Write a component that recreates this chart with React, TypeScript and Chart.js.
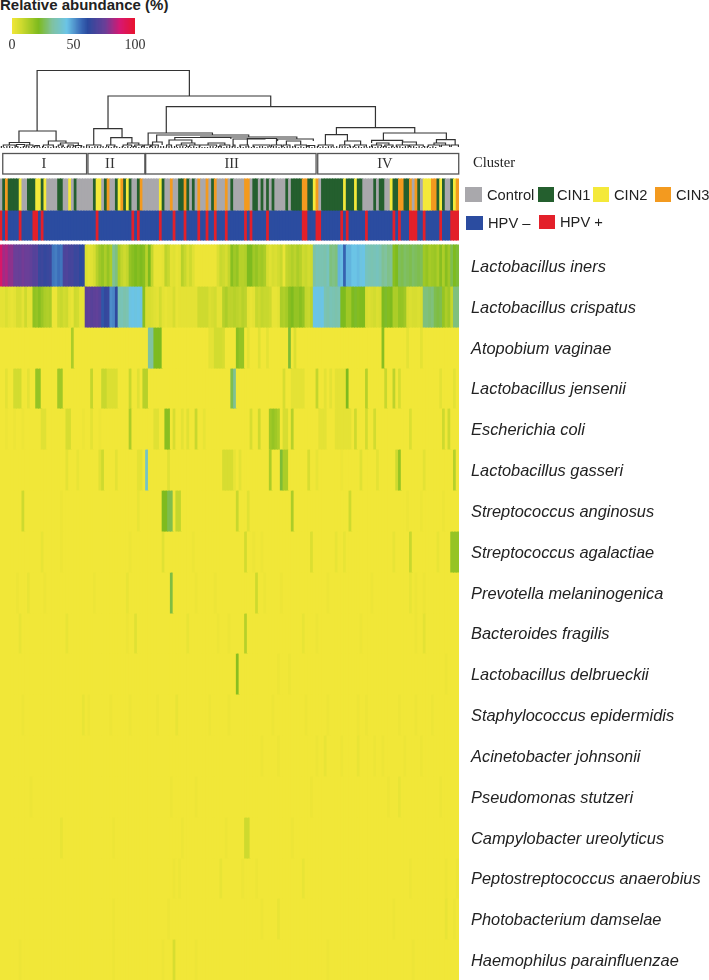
import React, { useEffect, useRef } from "react";
import { Chart, registerables } from "chart.js";

Chart.register(...registerables);

const COLUMN_COUNT = 167;
const speciesNames = [
  "Lactobacillus iners", "Lactobacillus crispatus", "Atopobium vaginae", "Lactobacillus jensenii",
  "Escherichia coli", "Lactobacillus gasseri", "Streptococcus anginosus", "Streptococcus agalactiae",
  "Prevotella melaninogenica", "Bacteroides fragilis", "Lactobacillus delbrueckii", "Staphylococcus epidermidis",
  "Acinetobacter johnsonii", "Pseudomonas stutzeri", "Campylobacter ureolyticus", "Peptostreptococcus anaerobius",
  "Photobacterium damselae", "Haemophilus parainfluenzae",
];

const iners = [
  90,82,84,80,80,76,76,75,77,76,76,74,71,72,65,66,64,65,66,55,54,56,55,69,70,68,68,65,66,62,63,
  5,3,4,6,12,16,18,14,18,14,32,30,14,10,8,10,18,20,22,20,22,20,12,22,10,2,2,2,3,11,9,3,4,2,3,
  12,9,5,8,4,1,1,1,1,1,1,1,1,5,9,8,6,10,20,16,18,12,12,13,22,22,16,18,15,16,14,6,4,6,5,7,
  9,2,10,11,13,11,14,12,8,9,7,8,34,37,36,36,35,38,30,31,30,47,46,58,47,47,45,45,46,44,45,
  38,37,36,37,38,36,32,33,31,32,20,22,27,26,28,27,26,28,27,26,27,16,18,15,16,17,14,20,14,20,16,26,22,24,
];
const crispatus = [
  3,3,5,3,2,3,6,6,3,8,3,3,19,18,20,17,14,13,14,1,1,8,9,7,8,3,2,8,7,2,2,
  73,74,72,73,74,72,60,64,65,52,53,63,36,37,35,36,44,45,44,45,44,20,
  6,6,5,4,3,7,3,2,3,3,6,2,3,3,3,3,3,3,3,8,8,8,8,5,6,7,3,3,12,14,11,
  11,12,11,10,12,11,3,2,3,9,8,10,9,9,8,2,2,3,14,13,15,20,22,18,18,20,18,10,9,11,
  45,45,44,45,36,35,37,36,35,36,22,22,16,16,22,23,21,22,22,6,5,6,7,5,6,22,23,21,22,14,14,
  18,18,16,6,5,6,6,5,6,30,30,29,30,26,25,26,18,14,16,10,30,30,
];
// Sparse species: [column, abundance]; every other column is 0.
const atopobium = [[26,14],[54,33],[55,33],[56,22],[57,22],[58,22],[76,3],[77,3],[78,7],[79,7],[80,7],[81,6],[86,20],[87,18],[88,18],[90,3],[94,4],[97,3],[105,24],[107,5],[139,20],[148,3],[153,3]];
const jensenii = [[2,3],[5,7],[6,7],[7,7],[10,3],[13,18],[14,18],[21,16],[22,16],[33,10],[37,9],[38,9],[39,5],[40,5],[41,5],[42,5],[47,9],[50,4],[52,12],[53,12],[84,26],[85,32],[103,6],[106,3],[107,3],[108,3],[109,3],[110,3],[115,10],[118,3],[120,3],[122,3],[123,3],[124,3],[125,3],[126,22],[133,12],[140,9],[143,11],[145,6],[160,3],[165,3]];
const coli = [[2,1],[5,1],[8,1],[15,4],[16,4],[24,6],[25,6],[30,1],[33,3],[36,1],[47,14],[56,4],[57,4],[60,20],[61,20],[63,6],[66,3],[68,4],[71,9],[74,2],[91,6],[94,8],[98,16],[99,18],[100,16],[101,14],[103,6],[104,6],[106,12],[116,3],[117,3],[118,3],[122,3],[123,3],[124,3],[125,3],[126,3],[127,3],[129,8],[133,7],[136,7],[149,5],[161,8],[163,8]];
const gasseri = [[24,3],[28,2],[36,4],[37,8],[42,3],[50,3],[51,3],[53,40],[61,4],[81,6],[82,6],[83,6],[84,6],[85,2],[87,3],[98,14],[102,24],[103,14],[104,14],[112,6],[115,2],[124,1],[131,4],[137,3],[144,8],[145,18],[154,3],[165,12]];
const anginosus = [[8,8],[22,1],[50,2],[59,22],[60,22],[61,26],[62,26],[64,10],[65,10],[86,9],[90,4],[106,14],[127,8],[148,1],[153,1],[161,1]];
const agalactiae = [[15,2],[22,1],[47,1],[59,4],[70,1],[89,7],[92,1],[95,1],[113,5],[122,2],[125,2],[143,2],[149,9],[159,2],[164,18],[165,18],[166,18]];
const prevotella = [[6,1],[10,2],[16,1],[34,1],[46,2],[62,25],[71,1],[78,1],[93,8],[96,1],[102,1],[119,1],[135,1],[149,2],[151,1],[154,1]];
const bacteroides = [[7,2],[24,2],[46,1],[49,4],[68,2],[79,1],[83,1],[89,12],[110,2],[115,1],[131,1],[151,1],[154,3]];
const delbrueckii = [[86,20],[101,1],[105,1],[162,1]];
const epidermidis = [[8,1],[30,2],[32,1],[40,1],[47,1],[57,1],[64,2],[76,1],[83,1],[99,1],[111,1],[119,1],[130,1],[133,1],[145,1],[151,1],[157,1]];
const johnsonii = [[95,1],[101,1],[115,1],[118,2],[124,1],[130,2],[136,1],[139,1],[147,1],[153,1]];
const stutzeri = [[11,1],[62,1],[71,1],[113,1],[141,1],[145,2],[160,1]];
const ureolyticus = [[22,2],[41,1],[66,1],[82,1],[89,8],[90,8],[106,1]];
const anaerobius = [[63,1],[65,1],[80,2],[88,1],[93,1],[110,2],[149,1],[162,1],[166,1]];
const damselae = [[41,1],[61,1],[95,1],[101,2],[143,1],[162,2],[165,1]];
const parainfluenzae = [[7,1],[41,1],[59,1],[63,6],[71,1],[119,1],[150,1]];

// 0 Control, 1 CIN1, 2 CIN2, 3 CIN3
const diagnosis = [
  0,1,3,1,1,1,1,2,0,0,1,1,1,2,2,1,2,0,0,0,0,1,1,0,0,2,0,1,0,0,0,0,0,0,1,2,2,0,1,3,0,0,1,2,3,1,2,1,0,0,1,3,
  0,0,0,0,0,0,2,1,0,0,3,0,0,1,1,3,1,0,1,0,3,0,0,3,0,1,3,0,0,0,3,0,1,0,0,0,0,3,3,0,1,1,0,1,0,1,0,1,0,0,0,0,1,0,
  1,1,1,1,3,3,1,1,2,3,0,1,1,1,1,1,1,1,1,2,1,1,1,2,1,1,0,0,0,0,1,0,1,1,0,0,2,1,1,3,3,1,1,3,0,3,1,0,2,2,2,3,3,1,2,1,0,0,1,2,3,
];
const hpvPositiveColumns = [0,2,7,12,13,15,35,48,50,58,63,67,72,75,78,82,89,91,97,110,111,115,116,124,126,133,143,145,149,150,151,154,160,164,165,166];

const clusterNames = ["I", "II", "III", "IV"];
const clusterStarts = [1, 32, 53, 115.6];
const clusterEnds = [31.5, 52.7, 115, 166.9];
const clusterLabelCols = [16, 40, 84.3, 140];

// Dendrogram, in columns and heights: [left, right, height, leftLegFloor, rightLegFloor]
const merges = [
  [13.5,68.9,77.5,17,52],[6.9,20.4,17,5.5,7],[39.3,98.5,52,19.4,41.3],[60.5,136.6,41.3,15,20.3],
  [34.1,44.4,19.4,3,10.3],[40.3,48,10.3,3,5],[46.4,50.5,5,3,3],
  [53.9,77.3,15,3,13],[57,90.5,13,6,11],[55.5,59,6,3,3],[73,108,11,10.5,9],[63.6,84,10.5,8,9],[61.5,69.8,8,3,5],[66,70.9,5,3,3],
  [84.8,96.4,9,3,9.5],[90,100.6,9.5,3,3],[101,114,9,7,7],[104.2,109.4,7,3,3],[75.7,81.8,5,3,3],
  [122.4,150.9,20.3,13.3,15],[118.4,126.4,13.3,3,7],[125.4,131.2,7,3,3],
  [139.5,162.4,15,7.7,8.3],[135.2,146.5,7.7,5,6],[137,141.5,5,3,3],[146.4,151.5,6,3,3],[158.8,165.6,8.3,5,3],[157.9,162.1,5,3,3],
  [3.4,10.8,5.5,3,3],[17.6,24,7,3,5],[22,28.5,5,3,3],
];
const tufts = [
  [1.2,5.5,3],[6,9,3.5],[9.7,12,3],[12.7,14.3,2.5],[15.8,19.4,3],[21.2,23,3],[24.8,26.7,3],[27.3,29.7,2.5],[31.5,36.7,3],[38.8,41.8,3],
  [44.8,47.9,3],[49,52,3],[52.5,55.3,3],[54.8,57.6,3],[60.6,62.4,3],[64.2,67.9,3],[69,72.7,3],[72.7,78.8,3],[80,83.6,3],[84.8,85.5,3],
  [87.3,90.3,3],[92.1,98.2,3],[98.8,102.4,3],[103,105.5,3],[107.3,111.5,3],[112,114.5,2.5],[115.8,121.2,3],[123.6,127.3,3],[129,133.3,3],
  [135.2,138.8,3],[140,143,3],[144.2,148.5,3],[149,154,3],[155.8,160,3],[160.6,163.6,3],[164.2,166.8,3],
];
const leafHeights = [
  2,1,2,2,1,2,2,1,2,1,2,1,2,2,1,2,1,2,1,2,2,1,2,1,2,2,1,2,1,2,2,1,2,1,2,2,1,2,1,2,1,2,2,1,2,1,2,1,2,2,1,2,
  2,1,2,1,2,1,2,2,1,2,1,2,1,2,2,1,2,1,2,1,2,1,1,1,2,2,1,2,2,1,2,1,2,2,1,2,1,2,2,1,2,1,2,2,1,2,1,2,2,1,2,1,2,1,2,
  2,1,2,1,2,2,1,2,2,1,2,1,2,2,1,2,1,2,2,1,2,2,1,2,1,2,1,2,2,1,2,1,2,2,1,2,1,2,2,1,2,1,2,2,1,2,1,2,2,1,2,1,
];

const abundanceStops = [0, 8, 22, 33, 45, 56, 62, 76, 88, 100];
const abundanceColors = [
  [241,231,56],[206,218,47],[126,187,31],[128,194,160],[107,196,230],[60,110,185],[43,74,158],[106,63,152],[214,24,115],[232,20,48],
];
const colorbarTicks = [0, 50, 100];
const diagnosisColors = ["#A9A8AC", "#245F2E", "#F4E93A", "#F39A1F"];
const HPV_NEG = "#2B4CA0";
const HPV_POS = "#E3202A";

function expandSparse(pairs: number[][]) {
  const out = new Array(COLUMN_COUNT).fill(0);
  pairs.forEach(([c, v]) => { out[c] = v; });
  return out;
}
const heatRows: number[][] = [
  iners, crispatus, ...[atopobium, jensenii, coli, gasseri, anginosus, agalactiae, prevotella, bacteroides,
    delbrueckii, epidermidis, johnsonii, stutzeri, ureolyticus, anaerobius, damselae, parainfluenzae].map(expandSparse),
];

function abundanceColor(v: number) {
  let i = 0;
  while (i < abundanceStops.length - 2 && v > abundanceStops[i + 1]) i++;
  const t = Math.min(1, (v - abundanceStops[i]) / (abundanceStops[i + 1] - abundanceStops[i]));
  const a = abundanceColors[i], b = abundanceColors[i + 1];
  return `rgb(${a.map((c, k) => Math.round(c + (b[k] - c) * t)).join(",")})`;
}

const columnLabels = Array.from({ length: COLUMN_COUNT }, (_, i) => String(i + 1));
const MAIN_TOP = 150;
const heatEdges = speciesNames.map((_, i) => 95 + Math.round((i * 735) / 18)).concat(830);

function band(top: number, bottom: number, colors: string[], label: string) {
  return {
    label,
    data: colors.map(() => [top, bottom]),
    backgroundColor: colors,
    borderWidth: 0,
    grouped: false,
    barPercentage: 1,
    categoryPercentage: 1,
    inflateAmount: 0.5,
  };
}

const clusterBoxes = {
  id: "clusterBoxes",
  afterDatasetsDraw(chart: any) {
    const { ctx, scales } = chart;
    ctx.save();
    ctx.strokeStyle = "#555";
    ctx.lineWidth = 1.3;
    ctx.fillStyle = "#333";
    ctx.font = "14.5px 'Liberation Serif'";
    ctx.textAlign = "center";
    ctx.textBaseline = "middle";
    const px = (c: number) => scales.x.getPixelForValue(c - 0.5);
    clusterNames.forEach((name, i) => {
      const l = px(clusterStarts[i]), r = px(clusterEnds[i]);
      ctx.strokeRect(l, scales.y.getPixelForValue(3.5), r - l, scales.y.getPixelForValue(24) - scales.y.getPixelForValue(3.5));
      ctx.fillText(name, px(clusterLabelCols[i]), scales.y.getPixelForValue(14));
    });
    ctx.restore();
  },
};

function useChart(build: (c: HTMLCanvasElement) => Chart) {
  const ref = useRef<HTMLCanvasElement>(null);
  useEffect(() => {
    const chart = build(ref.current!);
    return () => chart.destroy();
  }, []);
  return ref;
}

const Swatch = ({ x, y, w, h, c }: any) => (
  <div style={{ position: "absolute", left: x, top: y, width: w, height: h, background: c }} />
);
const Label = ({ x, y, children, style }: any) => (
  <div style={{ position: "absolute", left: x, top: y, font: "14.7px 'Liberation Sans'", color: "#222", whiteSpace: "nowrap", lineHeight: "18px", ...style }}>
    {children}
  </div>
);

export default function App() {
  const mainRef = useChart((canvas) => {
    const datasets: any[] = [
      band(29, 60, diagnosis.map((d) => diagnosisColors[d]), "Diagnosis"),
      band(60, 90, columnLabels.map((_, i) => (hpvPositiveColumns.includes(i) ? HPV_POS : HPV_NEG)), "HPV"),
      ...heatRows.map((row, i) =>
        band(heatEdges[i], heatEdges[i + 1], Array.from({ length: COLUMN_COUNT }, (_, c) => abundanceColor(row[c] ?? 0)), speciesNames[i])
      ),
    ];
    return new Chart(canvas, {
      type: "bar",
      data: { labels: columnLabels, datasets },
      plugins: [clusterBoxes],
      options: {
        animation: false, responsive: false, events: [],
        layout: { padding: 0 },
        plugins: { legend: { display: false }, tooltip: { enabled: false }, title: { display: false } },
        scales: {
          x: { display: false, type: "category" },
          y: {
            type: "linear", position: "right", reverse: true, min: 0, max: 830,
            grid: { display: false, drawTicks: false }, border: { display: false },
            afterBuildTicks(scale: any) {
              scale.ticks = speciesNames.map((_, i) => ({ value: (heatEdges[i] + heatEdges[i + 1]) / 2 + 1.5 }));
            },
            afterFit(scale: any) {
              scale.width = 250;
              scale.paddingTop = 0;
              scale.paddingBottom = 0;
            },
            ticks: {
              autoSkip: false, padding: 12, color: "#222",
              font: { family: "'Liberation Sans'", size: 16.4, style: "italic" },
              callback: (_v: any, i: number) => speciesNames[i],
            },
          },
        },
      } as any,
    });
  });

  const treeRef = useChart((canvas) => {
    const pts: any[] = [];
    const gap = () => pts.push({ x: NaN, y: NaN });
    merges.forEach(([l, r, h, lf, rf]) => {
      pts.push({ x: l, y: lf }, { x: l, y: h }, { x: r, y: h }, { x: r, y: rf }); gap();
    });
    tufts.forEach(([l, r, h]) => {
      pts.push({ x: l, y: 1 }, { x: l, y: h }, { x: r, y: h }, { x: r, y: 1 }); gap();
    });
    leafHeights.forEach((h, i) => {
      pts.push({ x: i + 0.5, y: 0 }, { x: i + 0.5, y: h }); gap();
    });
    return new Chart(canvas, {
      type: "scatter",
      data: { datasets: [{ label: "Dendrogram", data: pts, showLine: true, spanGaps: false, pointRadius: 0, borderColor: "#333", borderWidth: 1.2 }] },
      options: {
        animation: false, responsive: false, events: [],
        layout: { padding: 0 },
        plugins: { legend: { display: false }, tooltip: { enabled: false } },
        scales: {
          x: { type: "linear", display: false, min: 0, max: COLUMN_COUNT },
          y: { type: "linear", display: false, min: 0, max: 88 },
        },
      } as any,
    });
  });

  const barRef = useChart((canvas) => {
    const levels = Array.from({ length: 101 }, (_, i) => i);
    return new Chart(canvas, {
      type: "bar",
      data: {
        datasets: [{
          label: "Relative abundance (%)",
          data: levels.map((v) => ({ x: v, y: 1 })),
          backgroundColor: levels.map(abundanceColor),
          borderWidth: 0, barPercentage: 1, categoryPercentage: 1, inflateAmount: 0.5,
        }],
      },
      options: {
        animation: false, responsive: false, events: [],
        layout: { padding: { left: 12, right: 25, top: 4, bottom: 0 } },
        plugins: { legend: { display: false }, tooltip: { enabled: false } },
        scales: {
          x: {
            type: "linear", offset: false, min: 0, max: 100,
            grid: { display: false, drawTicks: false }, border: { display: false },
            afterBuildTicks(scale: any) { scale.ticks = colorbarTicks.map((value) => ({ value })); },
            afterFit(scale: any) { scale.height = 20; },
            ticks: { padding: 3, maxRotation: 0, color: "#333", font: { family: "'Liberation Serif'", size: 14 } },
          },
          y: { type: "linear", display: false, min: 0, max: 1 },
        },
      } as any,
    });
  });

  return (
    <div style={{ position: "absolute", left: 0, top: 0, width: 709, height: 980, overflow: "hidden", background: "#fff", filter: "blur(0.4px)" }}>
      <canvas ref={mainRef} width={709} height={830} style={{ position: "absolute", left: 0, top: MAIN_TOP, display: "block" }} />
      <canvas ref={treeRef} width={459} height={88} style={{ position: "absolute", left: 0, top: 60, display: "block" }} />
      <canvas ref={barRef} width={160} height={40} style={{ position: "absolute", left: 0, top: 14, display: "block" }} />
      <Label x={0} y={-4} style={{ font: "bold 15px 'Liberation Sans'", lineHeight: "18px" }}>Relative abundance (%)</Label>
      <Label x={473} y={153} style={{ font: "14.6px 'Liberation Serif'" }}>Cluster</Label>
      <Swatch x={465} y={187} w={17} h={15} c={diagnosisColors[0]} />
      <Label x={487} y={186}>Control</Label>
      <Swatch x={538} y={187} w={16} h={15} c={diagnosisColors[1]} />
      <Label x={557} y={186}>CIN1</Label>
      <Swatch x={593} y={187} w={16} h={15} c={diagnosisColors[2]} />
      <Label x={614} y={186}>CIN2</Label>
      <Swatch x={655} y={187} w={16} h={15} c={diagnosisColors[3]} />
      <Label x={676} y={186}>CIN3</Label>
      <Swatch x={466} y={216} w={17} h={14} c={HPV_NEG} />
      <Label x={488} y={214}>HPV –</Label>
      <Swatch x={539} y={215} w={16} h={14} c={HPV_POS} />
      <Label x={560} y={213}>HPV +</Label>
    </div>
  );
}
